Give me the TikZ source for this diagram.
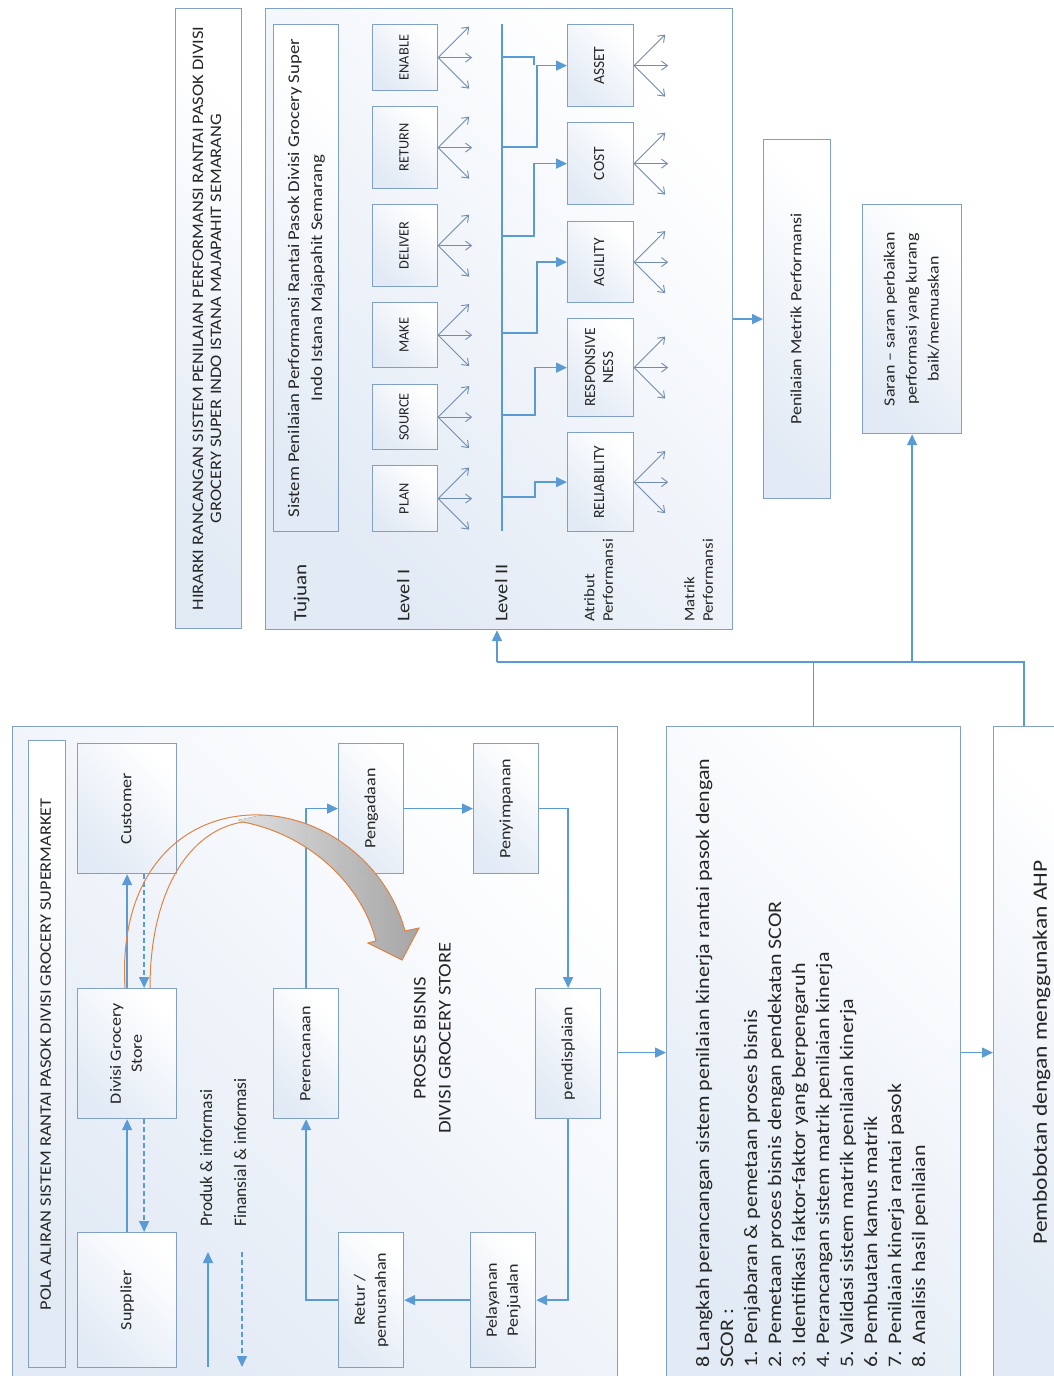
\documentclass[tikz,border=0pt]{standalone}
\usepackage{fontspec}
\setmainfont{Carlito}
\usepackage{graphicx}
\usetikzlibrary{arrows.meta}
\definecolor{boxc}{RGB}{128,160,198}
\definecolor{conn}{RGB}{91,155,213}
\definecolor{fanc}{RGB}{112,140,175}
\definecolor{tint}{RGB}{226,234,245}
\definecolor{orng}{RGB}{224,132,70}
\definecolor{txt}{RGB}{38,38,38}
\newcommand{\RT}[5][c]{\rotatebox{90}{\scalebox{#2}[1]{\fontsize{#3}{#4}\selectfont\begin{tabular}{@{}#1@{}}#5\end{tabular}}}}
\newcommand{\fanout}[1]{%
  \draw[fan] (#1.east) -- ++(31,-31);
  \draw[fan] (#1.east) -- ++(34,0);
  \draw[fan] (#1.east) -- ++(31,31);}
\begin{document}
\begin{tikzpicture}[x=1pt,y=-1pt,
  box/.style={draw=boxc,line width=1.2pt,top color=white,bottom color=tint,shading angle=-45,inner sep=0pt,text=txt,anchor=north west},
  lbl/.style={inner sep=0pt,text=txt},
  line/.style={draw=conn,line width=1.5pt},
  arr/.style={line,-{Triangle[length=11pt,width=10pt]}},
  darr/.style={arr,dash pattern=on 5pt off 3pt},
  fan/.style={draw=fanc,line width=0.9pt,-{Straight Barb[length=6pt,width=9pt]}},
]
\useasboundingbox (0,0) rectangle (1053,1376);
\fill[white] (0,0) rectangle (1053,1376);

% ---------- left: pola aliran ----------
\node[box,minimum width=605pt,minimum height=652pt] (outer1) at (12,726) {};
\node[box,minimum width=37pt,minimum height=627pt] (ttl1) at (28,740) {\RT{1.15}{16}{19}{POLA ALIRAN SISTEM RANTAI PASOK DIVISI GROCERY SUPERMARKET}};
\node[box,minimum width=99pt,minimum height=130pt] (cust) at (77,743) {\RT{1.15}{15.7}{21}{Customer}};
\node[box,minimum width=99pt,minimum height=130pt] (div) at (77,988) {\RT{1.15}{15.7}{21}{Divisi Grocery\\Store}};
\node[box,minimum width=99pt,minimum height=135pt] (sup) at (77,1232) {\RT{1.15}{15.7}{21}{Supplier}};
\node[box,minimum width=65pt,minimum height=130pt] (pere) at (273,988) {\RT{1.15}{15.7}{21}{Perencanaan}};
\node[box,minimum width=65pt,minimum height=130pt] (peng) at (338,743) {\RT{1.15}{15.7}{21}{Pengadaan}};
\node[box,minimum width=65pt,minimum height=130pt] (peny) at (473,743) {\RT{1.15}{15.7}{21}{Penyimpanan}};
\node[box,minimum width=65pt,minimum height=130pt] (pend) at (535,988) {\RT{1.15}{15.7}{21}{pendisplaian}};
\node[box,minimum width=65pt,minimum height=135pt] (pela) at (470,1232) {\RT{1.15}{15.7}{21}{Pelayanan\\Penjualan}};
\node[box,minimum width=65pt,minimum height=135pt] (retur) at (338,1232) {\RT{1.15}{15.7}{21}{Retur /\\pemusnahan}};
\node[lbl] (proses) at (433,1038) {\RT{1.15}{17.9}{25}{PROSES BISNIS\\DIVISI GROCERY STORE}};

% legend
\coordinate (lgA1) at (208,1367); \coordinate (lgA2) at (208,1252);
\coordinate (lgB1) at (242,1252); \coordinate (lgB2) at (242,1367);
\draw[arr] (lgA1) -- (lgA2);
\draw[darr] (lgB1) -- (lgB2);
\node[lbl,anchor=south] (lgt1) at (208,1227) {\RT{1}{17.5}{20}{Produk \& informasi}};
\node[lbl,anchor=south] (lgt2) at (242,1227) {\RT{1}{17.5}{20}{Finansial \& informasi}};

% flows
\draw[arr] (div.north) -- (cust.south);
\draw[darr] ([xshift=17pt]cust.south) -- ([xshift=17pt]div.north);
\draw[arr] (sup.north) -- (div.south);
\draw[darr] ([xshift=17pt]div.south) -- ([xshift=17pt]sup.north);
\draw[arr] (pere.north) |- (peng.west);
\draw[arr] (peng.east) -- (peny.west);
\draw[arr] (peny.east) -| (pend.north);
\draw[arr] (pend.south) |- (pela.east);
\draw[arr] (pela.west) -- (retur.east);
\draw[arr] (retur.west) -| (pere.south);

% curved orange arrow (shaded only on its right half)
\fill[left color=white,right color=black!26,fill opacity=0.85]
  (238,820) -- (262,815)
  .. controls (330,818) and (388,868) .. (405,931)
  -- (419,928) -- (402,960) -- (368,943) -- (376,941)
  .. controls (362,885) and (310,835) .. (243,822) -- cycle;
\draw[orng,line width=1pt]
  (125,988) .. controls (118,870) and (185,812) .. (262,815)
  .. controls (330,818) and (388,868) .. (405,931)
  -- (419,928) -- (402,960) -- (368,943) -- (376,941)
  .. controls (362,885) and (310,835) .. (243,822)
  .. controls (190,830) and (150,890) .. (150,988);

% ---------- middle ----------
\node[box,minimum width=294pt,minimum height=652pt] (lang) at (666,726) {};
\node[lbl,anchor=south west] (langtxt) at (692,1368) {\RT[l]{1.15}{19.1}{24}{8 Langkah perancangan sistem penilaian kinerja rantai pasok dengan\\SCOR :\\1. Penjabaran \& pemetaan proses bisnis\\2. Pemetaan proses bisnis dengan pendekatan SCOR\\3. Identifikasi faktor-faktor yang berpengaruh\\4. Perancangan sistem matrik penilaian kinerja\\5. Validasi sistem matrik penilaian kinerja\\6. Pembuatan kamus matrik\\7. Penilaian kinerja rantai pasok\\8. Analisis hasil penilaian}};
\node[box,minimum width=97pt,minimum height=652pt] (pemb) at (993,726) {\RT{1.15}{20.4}{24}{Pembobotan dengan menggunakan AHP}};
\draw[arr] (outer1.east) -- (lang.west);
\draw[arr] (lang.east) -- (pemb.west);

% ---------- right: hierarchy ----------
\node[box,minimum width=66pt,minimum height=620pt] (ttl2) at (175,8) {\RT{1.15}{16}{18}{HIRARKI RANCANGAN SISTEM PENILAIAN PERFORMANSI RANTAI PASOK DIVISI\\GROCERY SUPER INDO ISTANA MAJAPAHIT SEMARANG}};
\node[box,minimum width=467pt,minimum height=621pt] (hier) at (265,8) {};
\node[box,minimum width=65pt,minimum height=507pt] (tuj) at (273,24) {\RT{1.15}{16.3}{23}{Sistem Penilaian Performansi Rantai Pasok Divisi Grocery Super\\Indo Istana Majapahit Semarang}};
\node[box,minimum width=65pt,minimum height=66pt] (enable) at (372,24) {\RT{1}{14.3}{17}{ENABLE}};
\node[box,minimum width=65pt,minimum height=82pt] (return) at (372,106) {\RT{1}{14.3}{17}{RETURN}};
\node[box,minimum width=65pt,minimum height=82pt] (deliver) at (372,204) {\RT{1}{14.3}{17}{DELIVER}};
\node[box,minimum width=65pt,minimum height=65pt] (make) at (372,302) {\RT{1}{14.3}{17}{MAKE}};
\node[box,minimum width=65pt,minimum height=65pt] (source) at (372,384) {\RT{1}{14.3}{17}{SOURCE}};
\node[box,minimum width=65pt,minimum height=66pt] (plan) at (372,465) {\RT{1}{14.3}{17}{PLAN}};
\node[box,minimum width=66pt,minimum height=82pt] (asset) at (567,24) {\RT{1}{15.5}{18}{ASSET}};
\node[box,minimum width=66pt,minimum height=82pt] (cost) at (567,122) {\RT{1}{15.5}{18}{COST}};
\node[box,minimum width=66pt,minimum height=81pt] (agil) at (567,221) {\RT{1}{15.5}{18}{AGILITY}};
\node[box,minimum width=66pt,minimum height=98pt] (resp) at (567,318) {\RT{1}{15.5}{18}{RESPONSIVE\\NESS}};
\node[box,minimum width=66pt,minimum height=99pt] (reli) at (567,432) {\RT{1}{15.5}{18}{RELIABILITY}};

\node[lbl,anchor=south] (tujl) at (302,622) {\RT{1.15}{18.3}{22}{Tujuan}};
\node[lbl,anchor=south] (l1l) at (405,622) {\RT{1.15}{17.8}{22}{Level I}};
\node[lbl,anchor=south] (l2l) at (503,622) {\RT{1.15}{17.8}{22}{Level II}};
\node[lbl,anchor=south] (atl) at (600,622) {\RT[l]{1.15}{14.6}{18.5}{Atribut\\Performansi}};
\node[lbl,anchor=south] (mtl) at (700,622) {\RT[l]{1.15}{14.6}{18.5}{Matrik\\Performansi}};

\fanout{enable}\fanout{return}\fanout{deliver}\fanout{make}\fanout{source}\fanout{plan}
\fanout{asset}\fanout{cost}\fanout{agil}\fanout{resp}\fanout{reli}

% level II tree
\coordinate (l2t) at (502,24); \coordinate (l2b) at (502,531);
\draw[line] (l2t) -- (l2b);
\coordinate (s0) at (502,57); \coordinate (s1) at (502,147); \coordinate (s2) at (502,236);
\coordinate (s3) at (502,333); \coordinate (s4) at (502,415); \coordinate (s5) at (502,497);
\draw[line] (s0) -- ++(32,0) -- ++(0,8);
\draw[arr] (s1) -- ++(35,0) |- (asset.west);
\draw[arr] (s2) -- ++(32,0) |- (cost.west);
\draw[arr] (s3) -- ++(35,0) |- (agil.west);
\draw[arr] (s4) -- ++(33,0) |- (resp.west);
\draw[arr] (s5) -- ++(33,0) |- (reli.west);

\node[box,minimum width=67pt,minimum height=359pt] (pen) at (763,139) {\RT{1.15}{15.6}{21}{Penilaian Metrik Performansi}};
\node[box,minimum width=99pt,minimum height=229pt] (saran) at (862,204) {\RT{1.15}{15.6}{22}{Saran -- saran perbaikan\\performasi yang kurang\\baik/memuaskan}};
\draw[arr] (hier.east |- pen.west) -- (pen.west);

% bus
\coordinate (busL) at (497,662);
\coordinate (pembtop) at ([xshift=31pt]pemb.north west);
\draw[line] (pembtop) |- (busL);
\draw[line] (lang.north) -- (lang.north |- busL);
\draw[arr] (busL) -- (busL |- hier.south);
\draw[arr] (saran.south |- busL) -- (saran.south);
\end{tikzpicture}
\end{document}
